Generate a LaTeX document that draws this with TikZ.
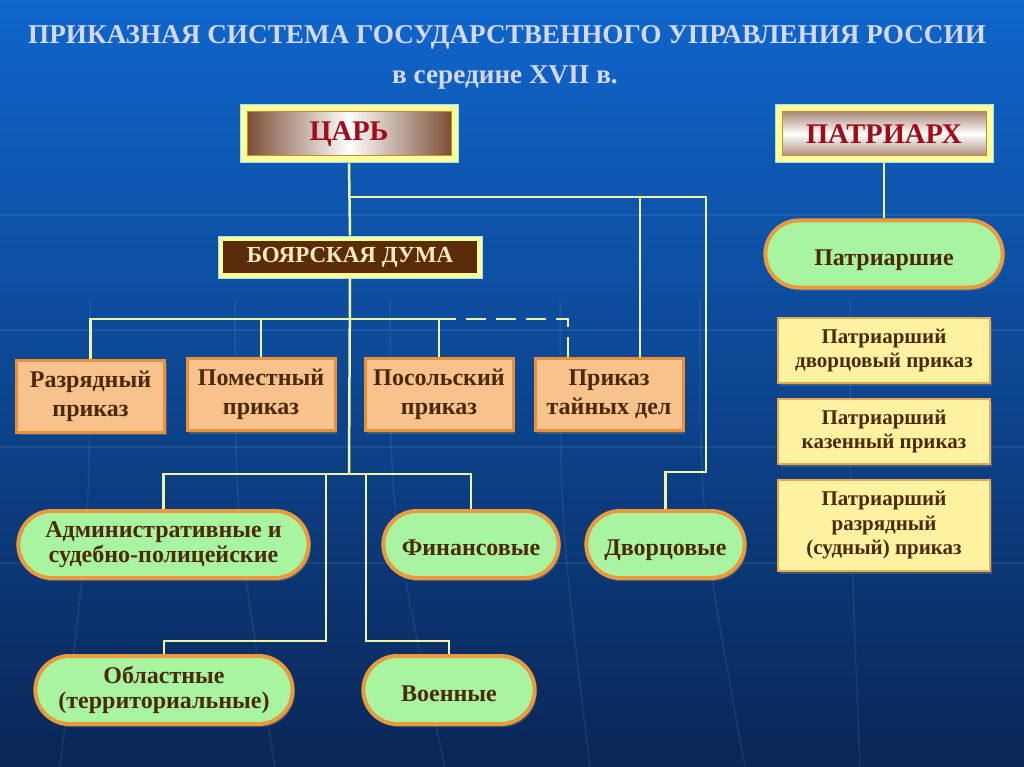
\documentclass[tikz,border=0pt]{standalone}
\usepackage{fontspec}
\setmainfont{Liberation Serif}
\usetikzlibrary{shapes.misc,shadows}

\definecolor{bgtop}{HTML}{0F66CC}
\definecolor{bgmid}{HTML}{0B4090}
\definecolor{bgbot}{HTML}{0A2656}
\definecolor{linecol}{HTML}{F0F4A0}
\definecolor{titlecol}{HTML}{D4D8F4}
\definecolor{framecol}{HTML}{FFFF9E}
\definecolor{framerim}{HTML}{9CE8E0}
\definecolor{brownfill}{HTML}{74422A}
\definecolor{darkbrown}{HTML}{5A2C0C}
\definecolor{goldline}{HTML}{C89020}
\definecolor{darkred}{HTML}{A00C18}
\definecolor{creamtext}{HTML}{F8EAB8}
\definecolor{pillgreen}{HTML}{A8F4A0}
\definecolor{pillrim}{HTML}{E89A3C}
\definecolor{peach}{HTML}{F8C28C}
\definecolor{peachrim}{HTML}{E8903A}
\definecolor{paleyellow}{HTML}{FFF3A2}
\definecolor{yellowrim}{HTML}{E8A850}
\definecolor{boxtext}{HTML}{4A2A0A}

\begin{document}
\begin{tikzpicture}[x=1pt,y=-1pt,
    conn/.style={draw=linecol,line width=2.5pt},
    titletext/.style={text=titlecol,font=\fontsize{27.2}{31}\selectfont\bfseries},
    headbox/.style={rectangle,fill=framecol,draw=framerim,line width=1pt,
        minimum width=218pt,minimum height=58pt,text=darkred,
        font=\fontsize{28.5}{30}\selectfont\bfseries},
    tsarshade/.style={headbox,path picture={
        \shade[left color=brownfill,right color=brownfill,middle color=white]
        ([shift={(7pt,7pt)}]path picture bounding box.south west) rectangle
        ([shift={(-7pt,-7pt)}]path picture bounding box.north east);
        \draw[goldline,line width=1pt]
        ([shift={(7pt,7pt)}]path picture bounding box.south west) rectangle
        ([shift={(-7pt,-7pt)}]path picture bounding box.north east);}},
    patrshade/.style={headbox,path picture={
        \shade[top color=brownfill!80,bottom color=brownfill!80,middle color=white]
        ([shift={(7pt,7pt)}]path picture bounding box.south west) rectangle
        ([shift={(-7pt,-7pt)}]path picture bounding box.north east);
        \draw[goldline,line width=1pt]
        ([shift={(7pt,7pt)}]path picture bounding box.south west) rectangle
        ([shift={(-7pt,-7pt)}]path picture bounding box.north east);}},
    dumabox/.style={rectangle,fill=framecol,draw=framerim,line width=1pt,
        minimum width=264pt,minimum height=42pt,text=creamtext,
        font=\fontsize{23}{26}\selectfont\bfseries,
        path picture={\fill[darkbrown]
        ([shift={(5pt,5pt)}]path picture bounding box.south west) rectangle
        ([shift={(-5pt,-5pt)}]path picture bounding box.north east);}},
    pill/.style={rounded rectangle,fill=pillgreen,draw=pillrim,line width=4pt,
        minimum height=67pt,align=center,text=boxtext,
        font=\fontsize{24}{25}\selectfont\bfseries,
        drop shadow={shadow xshift=2pt,shadow yshift=-3pt,opacity=.45}},
    oneline/.style={text height=22pt,text depth=0pt},
    prikaz/.style={rectangle,fill=peach,draw=peachrim,line width=3pt,
        minimum width=148pt,minimum height=72pt,align=center,text=boxtext,
        font=\fontsize{24}{29}\selectfont\bfseries,
        drop shadow={shadow xshift=2pt,shadow yshift=-3pt,opacity=.45}},
    patrprikaz/.style={rectangle,fill=paleyellow,draw=yellowrim,line width=2pt,
        minimum width=212pt,minimum height=65pt,align=center,text=boxtext,
        font=\fontsize{21}{24.5}\selectfont\bfseries,
        drop shadow={shadow xshift=2pt,shadow yshift=-3pt,opacity=.4}}]

% 背景
\shade[top color=bgtop,middle color=bgmid,bottom color=bgbot] (0,0) rectangle (1024,767);
\useasboundingbox (0,0) rectangle (1024,767);
\foreach \y in {215,330,447,563}
    \draw[white,opacity=.07,line width=2pt] (0,\y) -- (1024,\y);
\foreach \a/\b in {90/60,235/275,390/445,560/590,700/745,850/860}
    \draw[white,opacity=.07,line width=1.5pt] (\a,300) .. controls (\a,520) .. (\b,767);

% 标题
\node[titletext] (title) at (507,37)
    {ПРИКАЗНАЯ СИСТЕМА ГОСУДАРСТВЕННОГО УПРАВЛЕНИЯ РОССИИ};
\node[titletext] (subtitle) at (505,77) {в середине XVII в.};

% 上层
\node[tsarshade] (tsar) at (349,134) {ЦАРЬ};
\node[patrshade] (patriarch) at (884,134) {ПАТРИАРХ};
\node[dumabox] (duma) at (350,257) {БОЯРСКАЯ ДУМА};
\node[pill,oneline,minimum width=244pt] (patrpill) at (884,254) {Патриаршие};

% приказы
\node[prikaz] (razr) at (90.5,396) {Разрядный\\приказ};
\node[prikaz] (pomest) at (261,394.5) {Поместный\\приказ};
\node[prikaz] (posol) at (439,394.5) {Посольский\\приказ};
\node[prikaz] (tain) at (609,394.5) {Приказ\\тайных дел};

% 右侧
\node[patrprikaz] (pdvor) at (884,350.5) {Патриарший\\дворцовый приказ};
\node[patrprikaz] (pkazen) at (884,431.5) {Патриарший\\казенный приказ};
\node[patrprikaz,minimum height=91pt] (psud) at (884,525.5) {Патриарший\\разрядный\\(судный) приказ};

% 下层
\node[pill,minimum width=297pt] (admin) at (163.5,544.5) {Административные и\\судебно-полицейские};
\node[pill,oneline,minimum width=182pt] (finan) at (471,544.5) {Финансовые};
\node[pill,oneline,minimum width=165pt] (dvor) at (665.5,544.5) {Дворцовые};
\node[pill,minimum width=264pt,minimum height=68pt] (oblast) at (164,690) {Областные\\(территориальные)};
\node[pill,oneline,minimum width=178pt,minimum height=68pt] (voen) at (449,690) {Военные};

% 连线
\coordinate (knot1) at (349,197);
\coordinate (rt) at (706,197);
\coordinate (dumabar) at (349,319);
\coordinate (knot3) at (349,474);
\coordinate (lb) at (326,641);
\coordinate (rb) at (366,641);

\draw[conn] (tsar.south) -- (duma.north);
\draw[conn] (knot1) -- (rt) -- (rt |- 0,472) -| (dvor.north);
\draw[conn] ([xshift=31pt]tain.north) |- (rt);
\draw[conn] (duma.south) -- (knot3);
\draw[conn] (razr.north) |- (dumabar);
\draw[conn] (pomest.north) -- (pomest.north |- dumabar);
\draw[conn] (posol.north) |- (dumabar);
\draw[conn,dash pattern=on 20pt off 10pt] ([xshift=-41pt]tain.north) |- (posol.north |- dumabar);
\draw[conn] (admin.north) |- (knot3) -| (finan.north);
\draw[conn] (lb |- knot3) -- (lb) -| (oblast.north);
\draw[conn] (rb |- knot3) -- (rb) -| (voen.north);
\draw[conn] (patriarch.south) -- (patrpill.north);
\end{tikzpicture}
\end{document}
